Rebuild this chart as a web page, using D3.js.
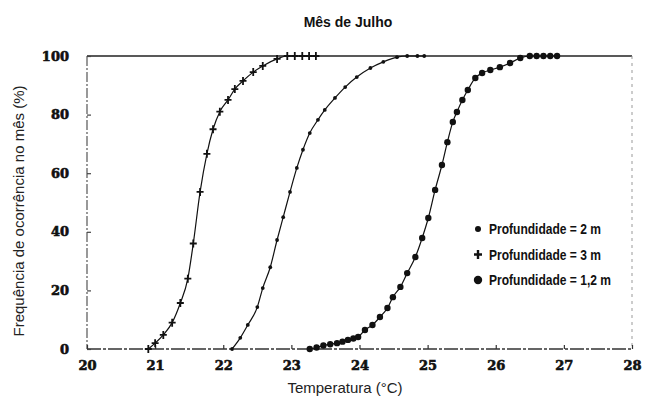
<!DOCTYPE html>
<html>
<head>
<meta charset="utf-8">
<script src="https://cdn.jsdelivr.net/npm/d3@7"></script>
<style>
  body { margin: 0; background: #fff; }
  svg { display: block; }
</style>
</head>
<body>
<svg id="chart" width="646" height="399"></svg>
<script>
// Cumulative frequency (%) of water temperature in July, at three depths
const xTicks = [20, 21, 22, 23, 24, 25, 26, 27, 28];
const yTicks = [0, 20, 40, 60, 80, 100];

// Depth 3 m (crosses)
const temp3m = [20.90, 21.00, 21.12, 21.25, 21.37, 21.48, 21.56, 21.66, 21.76, 21.85, 21.95, 22.07, 22.17, 22.29, 22.44, 22.58, 22.79, 22.94, 23.05, 23.16, 23.26, 23.36];
const freq3m = [0, 2, 4.8, 9, 15.7, 24, 36, 53.6, 66.6, 75, 81, 85, 88.7, 91.5, 94.5, 96.6, 99, 100, 100, 100, 100, 100];

// Depth 2 m (small dots)
const temp2m = [22.13, 22.25, 22.36, 22.50, 22.58, 22.69, 22.79, 22.88, 22.98, 23.08, 23.17, 23.27, 23.39, 23.49, 23.64, 23.79, 23.96, 24.16, 24.35, 24.55, 24.70, 24.85, 24.95];
const freq2m = [0, 3.8, 8.2, 14.3, 20.8, 27.9, 37.2, 45, 53.6, 61.8, 68, 73.7, 78.2, 81.6, 85.7, 89.4, 92.8, 95.9, 98, 99.6, 100, 100, 100];

// Depth 1.2 m (large dots)
const temp12m = [23.27, 23.37, 23.47, 23.57, 23.67, 23.75, 23.83, 23.91, 23.98, 24.08, 24.19, 24.30, 24.41, 24.49, 24.60, 24.70, 24.82, 24.92, 25.01, 25.11, 25.21, 25.29, 25.37, 25.43, 25.51, 25.59, 25.70, 25.80, 25.92, 26.06, 26.21, 26.36, 26.50, 26.60, 26.70, 26.80, 26.90];
const freq12m = [0, 0.5, 1.2, 1.6, 2, 2.5, 3.1, 3.6, 4.1, 6.5, 8.2, 10.9, 14, 17.7, 21.2, 25.9, 31.4, 37.9, 44.7, 54.3, 62.8, 70.6, 77.5, 80.9, 85, 88.4, 92.5, 94.2, 95.2, 96.2, 97.6, 99.3, 100, 100, 100, 100, 100];

const legendLabels = ["Profundidade = 2 m", "Profundidade = 3 m", "Profundidade = 1,2 m"];

const svg = d3.select("#chart");
const plotLeft = 87, plotRight = 632, plotTop = 56, plotBottom = 349;

const x = d3.scaleLinear().domain([20, 28]).range([plotLeft, plotRight]);
const y = d3.scaleLinear().domain([0, 100]).range([plotBottom, plotTop]);

const tickFont = "'DejaVu Serif', 'Liberation Serif', serif";
const textFont = "'Liberation Sans', Arial, sans-serif";

// Frame
svg.append("line").attr("x1", plotLeft).attr("x2", plotRight).attr("y1", plotTop).attr("y2", plotTop)
  .attr("stroke", "#222").attr("stroke-width", 1.6);
svg.append("line").attr("x1", plotLeft).attr("x2", plotRight).attr("y1", plotBottom).attr("y2", plotBottom)
  .attr("stroke", "#333").attr("stroke-width", 1.3).attr("stroke-dasharray", "14 2 3 2");
svg.append("line").attr("x1", plotLeft).attr("x2", plotLeft).attr("y1", plotTop).attr("y2", plotBottom)
  .attr("stroke", "#555").attr("stroke-width", 1.2).attr("stroke-dasharray", "10 2 2 2");
svg.append("line").attr("x1", plotRight).attr("x2", plotRight).attr("y1", plotTop).attr("y2", plotBottom)
  .attr("stroke", "#999").attr("stroke-width", 1).attr("stroke-dasharray", "3 4");

// Axes (ticks pointing inward, no domain path); heavy bold tick numbers
const xAxis = svg.append("g").attr("transform", `translate(0,${plotBottom})`)
  .call(d3.axisBottom(x).tickValues(xTicks).tickSize(-4).tickPadding(12).tickFormat(d3.format("d")));
xAxis.select(".domain").remove();
xAxis.selectAll(".tick line").attr("stroke", "#333").attr("stroke-width", 1.2);
xAxis.selectAll(".tick text").attr("font-family", tickFont).attr("font-weight", "bold")
  .attr("font-size", 13).attr("fill", "#111").attr("stroke", "#111").attr("stroke-width", 0.6);

const yAxis = svg.append("g").attr("transform", `translate(${plotLeft},0)`)
  .call(d3.axisLeft(y).tickValues(yTicks).tickSize(-4).tickPadding(18).tickFormat(d3.format("d")));
yAxis.select(".domain").remove();
yAxis.selectAll(".tick line").attr("stroke", "#444").attr("stroke-width", 1.2);
yAxis.selectAll(".tick text").attr("font-family", tickFont).attr("font-weight", "bold")
  .attr("font-size", 13).attr("fill", "#111").attr("stroke", "#111").attr("stroke-width", 0.6);

// Titles
svg.append("text").attr("x", 348).attr("y", 27).attr("text-anchor", "middle")
  .attr("font-family", textFont).attr("font-weight", "bold").attr("font-size", 14)
  .attr("fill", "#111").text("Mês de Julho");
svg.append("text").attr("x", 345).attr("y", 393).attr("text-anchor", "middle")
  .attr("font-family", textFont).attr("font-size", 15).attr("fill", "#222")
  .text("Temperatura (°C)");
svg.append("text").attr("transform", "translate(24,211) rotate(-90)").attr("text-anchor", "middle")
  .attr("font-family", textFont).attr("font-size", 15).attr("fill", "#222")
  .text("Frequência de ocorrência no mês  (%)");

// Curves
const line = d3.line().x(d => x(d[0])).y(d => y(d[1])).curve(d3.curveMonotoneX);
const series = [
  { t: temp2m, f: freq2m, marker: "dot" },
  { t: temp3m, f: freq3m, marker: "cross" },
  { t: temp12m, f: freq12m, marker: "big" }
];

const plot = svg.append("g");
series.forEach(s => {
  const pts = s.t.map((t, i) => [t, s.f[i]]);
  plot.append("path").datum(pts).attr("d", line)
    .attr("fill", "none").attr("stroke", "#111").attr("stroke-width", 1.2);
  const g = plot.append("g");
  drawMarkers(g, pts.map(p => [x(p[0]), y(p[1])]), s.marker);
});

function drawMarkers(g, pos, kind) {
  if (kind === "dot") {
    g.selectAll("circle").data(pos).join("circle")
      .attr("cx", d => d[0]).attr("cy", d => d[1]).attr("r", 1.9).attr("fill", "#111");
  } else if (kind === "big") {
    g.selectAll("circle").data(pos).join("circle")
      .attr("cx", d => d[0]).attr("cy", d => d[1]).attr("r", 3.2).attr("fill", "#111");
  } else {
    g.selectAll("path").data(pos).join("path")
      .attr("d", d => `M${d[0] - 3.5},${d[1]}H${d[0] + 3.5}M${d[0]},${d[1] - 4}V${d[1] + 4}`)
      .attr("stroke", "#111").attr("stroke-width", 1.8).attr("fill", "none");
  }
}

// Legend (condensed labels)
const legend = svg.append("g");
legendLabels.forEach((label, i) => {
  const ly = 229 + i * 25.5;
  const kind = ["dot", "cross", "big"][i];
  const g = legend.append("g");
  if (kind === "dot") {
    g.append("circle").attr("cx", 478).attr("cy", ly).attr("r", 3).attr("fill", "#111");
  } else if (kind === "cross") {
    g.append("path").attr("d", `M${474},${ly}H${482}M${478},${ly - 4.5}V${ly + 4.5}`)
      .attr("stroke", "#111").attr("stroke-width", 2.4);
  } else {
    g.append("circle").attr("cx", 478).attr("cy", ly).attr("r", 4.2).attr("fill", "#111");
  }
  g.append("text").attr("transform", `translate(489,${ly}) scale(0.86,1)`).attr("dy", "0.36em")
    .attr("font-family", textFont).attr("font-weight", "bold").attr("font-size", 14)
    .attr("fill", "#111").text(label);
});
</script>
</body>
</html>
